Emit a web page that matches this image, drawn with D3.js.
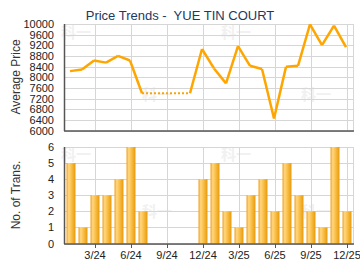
<!DOCTYPE html>
<html>
<head>
<meta charset="utf-8">
<script src="https://cdn.jsdelivr.net/npm/d3@7"></script>
<style>
  body { margin: 0; background: #fff; }
  svg { display: block; font-family: "Liberation Sans", Arial, sans-serif; }
</style>
</head>
<body>
<div id="chart"></div>
<script>
// data
var months = ['1/24','2/24','3/24','4/24','5/24','6/24','7/24','8/24','9/24','10/24','11/24','12/24',
              '1/25','2/25','3/25','4/25','5/25','6/25','7/25','8/25','9/25','10/25','11/25','12/25'];
var avgPrice = [8230, 8290, 8630, 8550, 8800, 8630, 7400, null, null, null, null, 9060,
                8330, 7770, 9170, 8430, 8310, 6450, 8390, 8430, 9990, 9210, 9940, 9130];
var numTrans = [5, 1, 3, 3, 4, 6, 2, 0, 0, 0, 0, 4,
                5, 2, 1, 3, 4, 2, 5, 3, 2, 1, 6, 2];
var tickMonths = ['3/24','6/24','9/24','12/24','3/25','6/25','9/25','12/25'];
var priceTicks = d3.range(6000, 10001, 400);
var transTicks = [0, 1, 2, 3, 4, 5, 6];

var W = 360, H = 270;
var svg = d3.select('#chart').append('svg')
            .attr('width', W).attr('height', H);

var grad = svg.append('defs').append('linearGradient')
              .attr('id', 'barGrad').attr('x1', '0%').attr('x2', '100%');
grad.append('stop').attr('offset', '0%').attr('stop-color', '#eea21a');
grad.append('stop').attr('offset', '25%').attr('stop-color', '#ffd780');
grad.append('stop').attr('offset', '55%').attr('stop-color', '#f9bf48');
grad.append('stop').attr('offset', '100%').attr('stop-color', '#e79a0c');

var x = d3.scaleBand().domain(months).range([65, 353]).paddingInner(0.25).paddingOuter(0.125);
var cx = function(m) { return x(m) + x.bandwidth() / 2; };

// watermarks
var marks = [[76, 38], [236, 38], [157, 100], [316, 100], [76, 160], [236, 160], [157, 217], [316, 217]];
svg.append('g').selectAll('text').data(marks).enter().append('text')
   .attr('x', d => d[0]).attr('y', d => d[1])
   .attr('text-anchor', 'middle')
   .style('font-family', '"Noto Sans CJK SC"')
   .style('font-size', '15px').style('font-weight', 'bold')
   .style('fill', '#f1f1f1')
   .text('科一');

// title
svg.append('text').attr('x', 180).attr('y', 20).attr('text-anchor', 'middle')
   .style('font-size', '13px').style('fill', '#1b3a62')
   .text('Price Trends -  YUE TIN COURT').attr('xml:space', 'preserve');

function frame(y, ticks, fmt) {
  var g = svg.append('g');
  var top = y.range()[1], bot = y.range()[0];
  g.selectAll('.hg').data(ticks).enter().append('line')
   .attr('x1', 65).attr('x2', 353)
   .attr('y1', d => Math.round(y(d)) + 0.5).attr('y2', d => Math.round(y(d)) + 0.5)
   .style('stroke', '#d6d6d6');
  g.selectAll('.vg').data(tickMonths).enter().append('line')
   .attr('x1', d => Math.round(cx(d)) + 0.5).attr('x2', d => Math.round(cx(d)) + 0.5)
   .attr('y1', top).attr('y2', bot)
   .style('stroke', '#d6d6d6');
  g.append('line').attr('x1', 353.5).attr('x2', 353.5).attr('y1', top).attr('y2', bot)
   .style('stroke', '#d6d6d6');
  g.selectAll('.yl').data(ticks).enter().append('text')
   .attr('x', 54).attr('y', d => y(d) + 4)
   .attr('text-anchor', 'end')
   .style('font-size', '11px').style('fill', '#222')
   .text(fmt);
  return g;
}

// ---- top chart: average price
var yP = d3.scaleLinear().domain([6000, 10000]).range([130.5, 24]);
frame(yP, priceTicks, d => d);

var filled = [];
var last = null;
avgPrice.forEach(function(v, i) {
  if (v != null) last = v;
  filled.push({ m: months[i], v: last, real: v != null });
});
var segs = [];
for (var i = 0; i < filled.length - 1; i++) {
  segs.push({ a: filled[i], b: filled[i + 1], dotted: !filled[i + 1].real });
}
var lineGen = d3.line().x(d => cx(d.m) - 1).y(d => yP(d.v));
svg.append('g').selectAll('path').data(segs).enter().append('path')
   .attr('d', d => lineGen([d.a, d.b]))
   .style('fill', 'none')
   .style('stroke', '#ffa500')
   .style('stroke-width', d => d.dotted ? 2 : 2.5)
   .style('stroke-dasharray', d => d.dotted ? '2,2' : null)
   .style('stroke-linejoin', 'round');

svg.append('line').attr('x1', 64.5).attr('x2', 64.5).attr('y1', 24).attr('y2', 131)
   .style('stroke', '#555').style('stroke-width', 1.5);
svg.append('line').attr('x1', 64).attr('x2', 354).attr('y1', 131).attr('y2', 131)
   .style('stroke', '#555').style('stroke-width', 1.5);

svg.append('text').attr('transform', 'translate(20,77) rotate(-90)')
   .attr('text-anchor', 'middle')
   .style('font-size', '12px').style('fill', '#333')
   .text('Average Price');

// ---- bottom chart: number of transactions
var yT = d3.scaleLinear().domain([0, 6]).range([243.5, 147]);
frame(yT, transTicks, d => d);

svg.append('g').selectAll('rect').data(months).enter().append('rect')
   .attr('x', d => x(d))
   .attr('width', x.bandwidth())
   .attr('y', (d, i) => yT(numTrans[i]))
   .attr('height', (d, i) => yT(0) - yT(numTrans[i]))
   .style('fill', 'url(#barGrad)');

svg.append('line').attr('x1', 64.5).attr('x2', 64.5).attr('y1', 147).attr('y2', 244)
   .style('stroke', '#555').style('stroke-width', 1.5);
svg.append('line').attr('x1', 64).attr('x2', 354).attr('y1', 244).attr('y2', 244)
   .style('stroke', '#555').style('stroke-width', 1.5);
svg.append('g').selectAll('line').data(tickMonths).enter().append('line')
   .attr('x1', d => Math.round(cx(d)) + 0.5).attr('x2', d => Math.round(cx(d)) + 0.5)
   .attr('y1', 244).attr('y2', 248)
   .style('stroke', '#555');
svg.append('g').selectAll('text').data(tickMonths).enter().append('text')
   .attr('x', d => cx(d)).attr('y', 259)
   .attr('text-anchor', 'middle')
   .style('font-size', '11px').style('fill', '#222')
   .text(d => d);

svg.append('text').attr('transform', 'translate(20,195) rotate(-90)')
   .attr('text-anchor', 'middle')
   .style('font-size', '12px').style('fill', '#333')
   .text('No. of Trans.');
</script>
</body>
</html>
